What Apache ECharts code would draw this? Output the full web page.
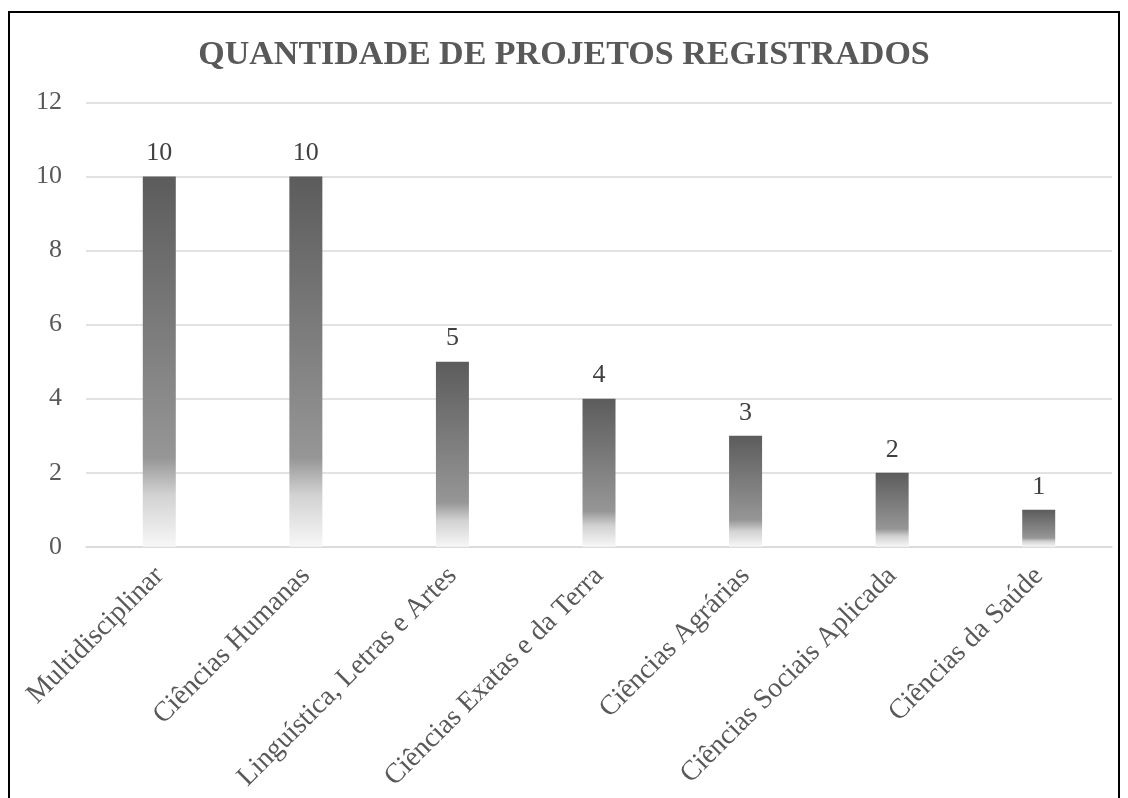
<!DOCTYPE html>
<html>
<head>
<meta charset="utf-8">
<script src="https://cdn.jsdelivr.net/npm/echarts@6/dist/echarts.min.js"></script>
<style>
  html, body { margin: 0; padding: 0; background: #fff; }
  #chart { width: 1128px; height: 798px; }
</style>
</head>
<body>
<div id="chart"></div>
<script>
// dados do gráfico
var categorias = ['Multidisciplinar', 'Ciências Humanas', 'Linguística, Letras e Artes', 'Ciências Exatas e da Terra', 'Ciências Agrárias', 'Ciências Sociais Aplicada', 'Ciências da Saúde'];
var valores = [10, 10, 5, 4, 3, 2, 1];
var titulo = 'QUANTIDADE DE PROJETOS REGISTRADOS';

var chart = echarts.init(document.getElementById('chart'));

var option = {
    backgroundColor: '#fff',
    animation: false,
    title: {
        text: titulo,
        left: 'center',
        top: 33,
        textStyle: {
            fontFamily: 'Liberation Serif',
            fontWeight: 'bold',
            fontSize: 34,
            color: '#595959'
        }
    },
    graphic: [{
        type: 'rect',
        shape: { x: 9, y: 12, width: 1110, height: 800 },
        style: { fill: 'none', stroke: '#000', lineWidth: 2 },
        silent: true
    }],
    grid: {
        left: 86,
        right: 16,
        top: 102.6,
        bottom: 251.3
    },
    xAxis: {
        type: 'category',
        data: categorias,
        axisTick: { show: false },
        axisLine: { lineStyle: { color: '#d9d9d9', width: 1.5 } },
        axisLabel: {
            rotate: 45,
            margin: 25,
            interval: 0,
            fontFamily: 'Liberation Serif',
            fontSize: 28,
            color: '#595959'
        }
    },
    yAxis: {
        type: 'value',
        min: 0,
        max: 12,
        interval: 2,
        axisLine: { show: false },
        axisTick: { show: false },
        axisLabel: {
            margin: 24,
            fontFamily: 'Liberation Serif',
            fontSize: 26,
            color: '#595959'
        },
        splitLine: { lineStyle: { color: '#d9d9d9', width: 1.5 } }
    },
    series: [{
        type: 'bar',
        data: valores,
        barWidth: 33,
        itemStyle: {
            color: new echarts.graphic.LinearGradient(0, 0, 0, 1, [
                { offset: 0, color: '#5c5c5c' },
                { offset: 0.76, color: '#969696' },
                { offset: 0.86, color: '#d2d2d2' },
                { offset: 1, color: '#f7f7f7' }
            ])
        },
        label: {
            show: true,
            position: 'top',
            distance: 10,
            fontFamily: 'Liberation Serif',
            fontSize: 26,
            color: '#404040'
        }
    }]
};

chart.setOption(option);
</script>
</body>
</html>
